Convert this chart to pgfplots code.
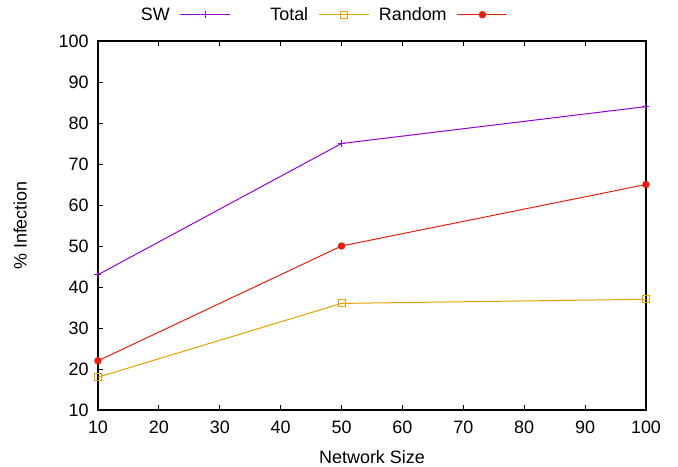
\documentclass[border=0pt]{standalone}
\usepackage{pgfplots}
\pgfplotsset{compat=1.18}
\usepackage{fontspec}
\setmainfont{Liberation Sans}
\definecolor{cSW}{HTML}{9400D3}
\definecolor{cTot}{HTML}{E69F00}
\definecolor{cRnd}{HTML}{E51E10}
\begin{document}
\begin{tikzpicture}[font=\fontsize{18}{21}\selectfont]
\path (-98bp,-57bp) rectangle (580bp,410bp);
\begin{axis}[
  at={(0,0)}, anchor=south west,
  scale only axis, width=548bp, height=369bp,
  xmin=10, xmax=100, ymin=10, ymax=100,
  xtick={10,20,...,100}, ytick={10,20,...,100},
  /pgf/number format/assume math mode=true,
  tick align=inside,
  xtick pos=both, ytick pos=left,
  major tick length=5bp,
  axis line style={line width=1.2bp},
  every tick/.style={black, line width=0.8bp},
  xticklabel style={yshift=-7bp},
  yticklabel style={xshift=-6bp},
  xlabel={Network Size}, ylabel={\% Infection},
  every axis x label/.style={at={(axis description cs:0.5,-0.127)},anchor=center},
  every axis y label/.style={at={(axis description cs:-0.142,0.5)},rotate=90,anchor=center},
  legend columns=3,
  legend plot pos=right,
  legend style={draw=none, fill=none, at={(axis description cs:0.374,1)}, anchor=center, yshift=26bp,
    /tikz/every odd column/.append style={nodes={text width=70bp, align=right}},
    nodes={inner sep=2bp}, column sep=8bp,
    /tikz/every even column/.append style={column sep=5bp}},
]
\addplot[color=cSW, line width=1bp, mark=+, mark size=3.5bp, mark options={solid},
  legend image code/.code={\draw[draw=cSW, line width=1.5bp] (0bp,0.3bp) -- (50bp,0.3bp);
    \draw[cSW, line width=1bp] plot[mark=+, mark size=3.5bp] coordinates {(25bp,0.3bp)};}]
  coordinates {(10,43) (50,75) (100,84)};
\addlegendentry{SW}
\addplot[color=cTot, line width=1bp, mark=square, mark size=3.5bp, mark options={solid},
  legend image code/.code={\draw[draw=cTot, line width=1.5bp] (0bp,0.3bp) -- (50bp,0.3bp);
    \draw[cTot, line width=1bp, fill=white] plot[mark=square, mark size=3.5bp] coordinates {(25bp,0.3bp)};}]
  coordinates {(10,18) (50,36) (100,37)};
\addlegendentry{Total}
\addplot[color=cRnd, line width=1bp, mark=*, mark size=3.2bp, mark options={solid},
  legend image code/.code={\draw[draw=cRnd, line width=1.5bp] (0bp,0.3bp) -- (50bp,0.3bp);
    \draw[cRnd, fill=cRnd, line width=1bp] plot[mark=*, mark size=3.2bp] coordinates {(25bp,0.3bp)};}]
  coordinates {(10,22) (50,50) (100,65)};
\addlegendentry{Random}
\end{axis}
\end{tikzpicture}
\end{document}
